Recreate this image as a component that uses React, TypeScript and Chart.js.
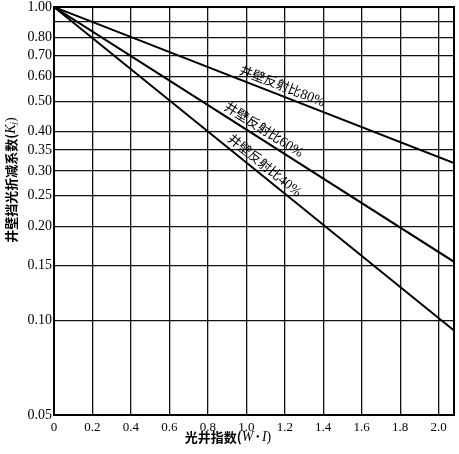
import React, { useEffect, useRef } from 'react';
import { Chart, registerables } from 'chart.js';

Chart.register(...registerables);

// Light-well index (W·I) at the two ends of each line
const wellIndex = [0, 2.08];

// Wall reflectance series: reduction factor K_j, straight lines on log axis
const k80 = [1.0, 0.318];
const k60 = [1.0, 0.154];
const k40 = [1.0, 0.093];

const seriesLabels = ['井壁反射比80%', '井壁反射比60%', '井壁反射比40%'];
// where along the x axis each curve label sits
const labelAnchors = [1.17, 1.065, 1.065];

const xTicks = [0, 0.2, 0.4, 0.6, 0.8, 1.0, 1.2, 1.4, 1.6, 1.8, 2.0];
const yTicks = [0.05, 0.1, 0.15, 0.2, 0.25, 0.3, 0.35, 0.4, 0.5, 0.6, 0.7, 0.8, 0.9, 1.0];
const yTickLabels = ['0.05', '0.10', '0.15', '0.20', '0.25', '0.30', '0.35', '0.40', '0.50', '0.60', '0.70', '0.80', '', '1.00'];

const SERIF = '"Liberation Serif", "DejaVu Serif", serif';
const CJK = '"Noto Sans CJK SC", sans-serif';

// draw mixed CJK + latin text starting at x, returns end x
function drawParts(ctx: CanvasRenderingContext2D, parts: { t: string; f: string; dy?: number }[], x: number, y: number) {
  let cx = x;
  parts.forEach((p) => {
    ctx.font = p.f;
    ctx.fillText(p.t, cx, y + (p.dy || 0));
    cx += ctx.measureText(p.t).width;
  });
  return cx;
}

function partsWidth(ctx: CanvasRenderingContext2D, parts: { t: string; f: string }[]) {
  return parts.reduce((w, p) => {
    ctx.font = p.f;
    return w + ctx.measureText(p.t).width;
  }, 0);
}

const framePlugin = {
  id: 'frame',
  afterDraw(chart: any) {
    const { ctx, chartArea } = chart;
    ctx.save();
    ctx.strokeStyle = '#000';
    ctx.lineWidth = 2;
    ctx.strokeRect(chartArea.left, chartArea.top, chartArea.right - chartArea.left, chartArea.bottom - chartArea.top);
    ctx.restore();
  }
};

const curveLabelPlugin = {
  id: 'curveLabels',
  afterDatasetsDraw(chart: any) {
    const { ctx, scales } = chart;
    const xs = scales.x;
    const ys = scales.y;
    chart.data.datasets.forEach((ds: any, i: number) => {
      const pts = ds.data;
      const x0 = xs.getPixelForValue(pts[0].x);
      const y0 = ys.getPixelForValue(pts[0].y);
      const x1 = xs.getPixelForValue(pts[pts.length - 1].x);
      const y1 = ys.getPixelForValue(pts[pts.length - 1].y);
      const ang = Math.atan2(y1 - y0, x1 - x0);
      const ax = xs.getPixelForValue(labelAnchors[i]);
      const ay = y0 + ((ax - x0) / (x1 - x0)) * (y1 - y0);
      const text = seriesLabels[i];
      const cjk = text.replace(/[0-9%]+$/, '');
      const num = text.slice(cjk.length);
      const parts = [
        { t: cjk, f: `13px ${CJK}` },
        { t: num, f: `14px ${SERIF}` }
      ];
      ctx.save();
      ctx.translate(ax, ay);
      ctx.rotate(ang);
      ctx.fillStyle = '#000';
      ctx.textBaseline = 'alphabetic';
      const w = partsWidth(ctx, parts);
      drawParts(ctx, parts, -w / 2, -5);
      ctx.restore();
    });
  }
};

const axisTitlePlugin = {
  id: 'axisTitles',
  afterDraw(chart: any) {
    const { ctx, chartArea } = chart;
    ctx.save();
    ctx.fillStyle = '#000';
    ctx.textBaseline = 'middle';
    // x title
    const xParts = [
      { t: '光井指数(', f: `bold 13px ${CJK}` },
      { t: 'W', f: `italic 14px ${SERIF}` },
      { t: ' • ', f: `10px ${SERIF}` },
      { t: 'I', f: `italic 14px ${SERIF}` },
      { t: ')', f: `14px ${SERIF}` }
    ];
    const xw = partsWidth(ctx, xParts);
    drawParts(ctx, xParts, chartArea.left + 174 - xw / 2, chartArea.bottom + 22);
    // y title, rotated
    const yParts = [
      { t: '井壁挡光折减系数(', f: `bold 13px ${CJK}` },
      { t: 'K', f: `italic 14px ${SERIF}` },
      { t: 'j', f: `italic 9px ${SERIF}`, dy: 3 },
      { t: ')', f: `14px ${SERIF}` }
    ];
    const yw = partsWidth(ctx, yParts);
    ctx.translate(11, chartArea.top + 173);
    ctx.rotate(-Math.PI / 2);
    drawParts(ctx, yParts, -yw / 2, 0);
    ctx.restore();
  }
};

const App: React.FC = () => {
  const chartRef = useRef<HTMLCanvasElement>(null);
  const chartInstanceRef = useRef<Chart | null>(null);

  useEffect(() => {
    document.body.style.margin = '0';
    if (!chartRef.current) return;
    const ctx = chartRef.current.getContext('2d');
    if (!ctx) return;

    const series = [k80, k60, k40];
    chartInstanceRef.current = new Chart(ctx, {
      type: 'line',
      data: {
        datasets: series.map((vals, i) => ({
          label: seriesLabels[i],
          data: wellIndex.map((x, j) => ({ x, y: vals[j] })),
          borderColor: '#000',
          borderWidth: 2,
          pointRadius: 0,
          fill: false,
          tension: 0
        }))
      },
      options: {
        animation: false,
        responsive: true,
        maintainAspectRatio: false,
        layout: { padding: { top: 0, right: 5, left: 0, bottom: 0 } },
        plugins: {
          legend: { display: false },
          tooltip: { enabled: false }
        },
        scales: {
          x: {
            type: 'linear',
            min: 0,
            max: 2.08,
            afterBuildTicks: (scale: any) => {
              scale.ticks = xTicks.map((v) => ({ value: v }));
            },
            afterFit: (scale: any) => {
              scale.height = 39;
            },
            grid: { color: '#111', lineWidth: 1.3, drawTicks: false },
            border: { color: '#000', width: 2 },
            ticks: {
              autoSkip: false,
              maxRotation: 0,
              padding: 5,
              color: '#000',
              font: { family: SERIF, size: 13 },
              callback: (v: any) => (v === 0 ? '0' : Number(v).toFixed(1))
            }
          },
          y: {
            type: 'logarithmic',
            min: 0.05,
            max: 1.0,
            afterBuildTicks: (scale: any) => {
              scale.ticks = yTicks.map((v) => ({ value: v }));
            },
            afterFit: (scale: any) => {
              scale.width = 54;
            },
            grid: { color: '#111', lineWidth: 1.3, drawTicks: false },
            border: { color: '#000', width: 2 },
            ticks: {
              autoSkip: false,
              padding: 2,
              color: '#000',
              font: { family: SERIF, size: 14, lineHeight: 0.72 },
              callback: (v: any) => {
                const idx = yTicks.findIndex((t) => Math.abs(t - v) < 1e-9);
                return idx >= 0 ? yTickLabels[idx] : '';
              }
            }
          }
        }
      },
      plugins: [framePlugin, curveLabelPlugin, axisTitlePlugin]
    });

    return () => {
      if (chartInstanceRef.current) {
        chartInstanceRef.current.destroy();
        chartInstanceRef.current = null;
      }
    };
  }, []);

  return (
    <div style={{ width: 459, height: 454, position: 'relative', background: '#fff' }}>
      <canvas ref={chartRef}></canvas>
    </div>
  );
};

export default App;
